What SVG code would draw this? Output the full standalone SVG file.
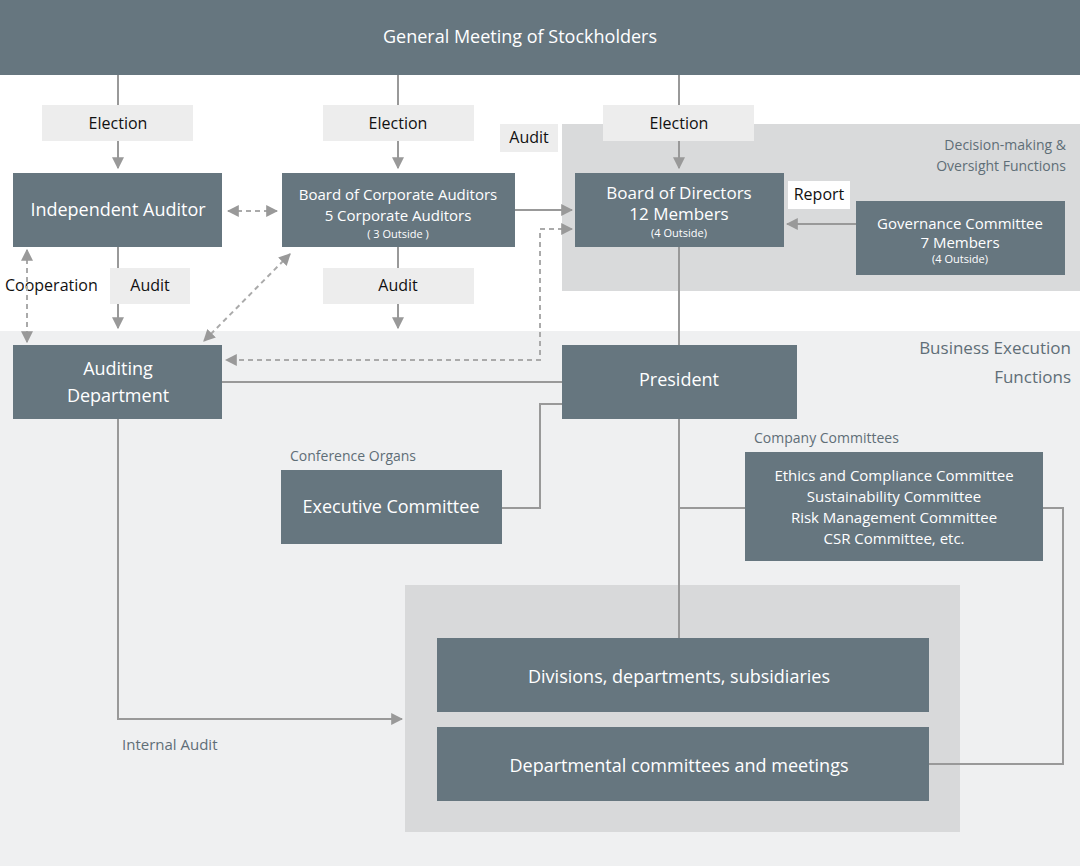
<svg xmlns="http://www.w3.org/2000/svg" width="1080" height="866" viewBox="0 0 1080 866">
<defs>
<style>
text{font-family:"Open Sans","Noto Sans",sans-serif;}
.n{fill:#66767f;}
.w{fill:#fff;text-anchor:middle;}
.lb{fill:#ededed;}
.k{fill:#111;text-anchor:middle;font-size:16px;}
.g{fill:#5f6e77;}
.ln{stroke:#999;stroke-width:2;fill:none;}
.d{stroke:#aaa;stroke-width:2;fill:none;stroke-dasharray:5,4;}
</style>
<marker id="a" viewBox="0 0 10 10" refX="9" refY="5" markerWidth="6" markerHeight="6" orient="auto-start-reverse"><path d="M0,0L10,5L0,10z" fill="#999"/></marker>
</defs>
<rect x="0" y="0" width="1080" height="866" fill="#fff"/>
<rect x="562" y="124" width="518" height="167" fill="#d9dadb"/>
<rect x="0" y="331" width="1080" height="535" fill="#eff0f1"/>
<rect x="405" y="585" width="555" height="247" fill="#d8d9da"/>
<g id="banner"><rect class="n" x="0" y="0" width="1080" height="75"/><text class="w" x="520" y="43" font-size="18">General Meeting of Stockholders</text></g>
<g id="labels">
<rect class="lb" x="42" y="105" width="151" height="36"/><text class="k" x="118" y="129">Election</text>
<rect class="lb" x="323" y="105" width="151" height="36"/><text class="k" x="398" y="129">Election</text>
<rect class="lb" x="603" y="105" width="151" height="36"/><text class="k" x="679" y="129">Election</text>
<rect class="lb" x="500" y="124" width="58" height="28"/><text class="k" x="529" y="143">Audit</text>
<rect fill="#fff" x="788" y="181" width="62" height="28"/><text class="k" x="819" y="200">Report</text>
<rect class="lb" x="110" y="268" width="80" height="36"/><text class="k" x="150" y="291">Audit</text>
<rect class="lb" x="323" y="268" width="151" height="36"/><text class="k" x="398" y="291">Audit</text>
<text x="5" y="291" font-size="16" fill="#111">Cooperation</text>
<text x="1066" y="150" font-size="14" fill="#5f6e77" text-anchor="end">Decision-making &amp;</text>
<text x="1066" y="171" font-size="14" fill="#5f6e77" text-anchor="end">Oversight Functions</text>
<text x="1071" y="354" font-size="17" fill="#5f6e77" text-anchor="end">Business Execution</text>
<text x="1071" y="383" font-size="17" fill="#5f6e77" text-anchor="end">Functions</text>
<text x="290" y="461" font-size="14" class="g">Conference Organs</text>
<text x="754" y="443" font-size="14" class="g">Company Committees</text>
<text x="122" y="750" font-size="15" class="g">Internal Audit</text>
</g>
<g id="connectors">
<line class="ln" x1="118" y1="75" x2="118" y2="105"/><line class="ln" x1="118" y1="141" x2="118" y2="168" marker-end="url(#a)"/>
<line class="ln" x1="398" y1="75" x2="398" y2="105"/><line class="ln" x1="398" y1="141" x2="398" y2="168" marker-end="url(#a)"/>
<line class="ln" x1="679" y1="75" x2="679" y2="105"/><line class="ln" x1="679" y1="141" x2="679" y2="168" marker-end="url(#a)"/>
<line class="ln" x1="118" y1="247" x2="118" y2="268"/><line class="ln" x1="118" y1="304" x2="118" y2="328" marker-end="url(#a)"/>
<line class="ln" x1="398" y1="247" x2="398" y2="268"/><line class="ln" x1="398" y1="304" x2="398" y2="328" marker-end="url(#a)"/>
<line class="ln" x1="515" y1="210" x2="572" y2="210" marker-end="url(#a)"/>
<line class="d" x1="228" y1="211" x2="277" y2="211" marker-start="url(#a)" marker-end="url(#a)"/>
<line class="d" x1="27" y1="250" x2="27" y2="342" marker-start="url(#a)" marker-end="url(#a)"/>
<line class="d" x1="290" y1="254" x2="204" y2="341" marker-start="url(#a)" marker-end="url(#a)"/>
<path class="d" d="M572,229H540V360H226" marker-start="url(#a)" marker-end="url(#a)"/>
<line class="ln" x1="856" y1="224" x2="787" y2="224" marker-end="url(#a)"/>
<line class="ln" x1="679" y1="247" x2="679" y2="345"/>
<line class="ln" x1="679" y1="419" x2="679" y2="638"/>
<line class="ln" x1="222" y1="382" x2="562" y2="382"/>
<path class="ln" d="M562,404H540V508H502"/>
<line class="ln" x1="679" y1="508" x2="745" y2="508"/>
<path class="ln" d="M1043,508H1063V764H929"/>
<path class="ln" d="M118,419V719H402" marker-end="url(#a)"/>
</g>
<g id="independent-auditor"><rect class="n" x="13" y="173" width="209" height="74"/><text class="w" x="118" y="216" font-size="18">Independent Auditor</text></g>
<g id="board-corporate-auditors"><rect class="n" x="282" y="173" width="233" height="74"/><text class="w" x="398" y="200" font-size="15">Board of Corporate Auditors</text><text class="w" x="398" y="221" font-size="15">5 Corporate Auditors</text><text class="w" x="398" y="238" font-size="11">( 3 Outside )</text></g>
<g id="board-directors"><rect class="n" x="575" y="173" width="209" height="74"/><text class="w" x="679" y="199" font-size="17">Board of Directors</text><text class="w" x="679" y="220" font-size="17">12 Members</text><text class="w" x="679" y="237" font-size="11">(4 Outside)</text></g>
<g id="governance"><rect class="n" x="856" y="201" width="209" height="74"/><text class="w" x="960" y="229" font-size="15">Governance Committee</text><text class="w" x="960" y="248" font-size="15">7 Members</text><text class="w" x="960" y="263" font-size="11">(4 Outside)</text></g>
<g id="auditing-department"><rect class="n" x="13" y="345" width="209" height="74"/><text class="w" x="118" y="375" font-size="18">Auditing</text><text class="w" x="118" y="402" font-size="18">Department</text></g>
<g id="president"><rect class="n" x="562" y="345" width="235" height="74"/><text class="w" x="679" y="386" font-size="18">President</text></g>
<g id="executive-committee"><rect class="n" x="281" y="470" width="221" height="74"/><text class="w" x="391" y="513" font-size="18">Executive Committee</text></g>
<g id="company-committees"><rect class="n" x="745" y="452" width="298" height="109"/><text class="w" x="894" y="481" font-size="15">Ethics and Compliance Committee</text><text class="w" x="894" y="502" font-size="15">Sustainability Committee</text><text class="w" x="894" y="523" font-size="15">Risk Management Committee</text><text class="w" x="894" y="544" font-size="15">CSR Committee, etc.</text></g>
<g id="divisions"><rect class="n" x="437" y="638" width="492" height="74"/><text class="w" x="679" y="683" font-size="18">Divisions, departments, subsidiaries</text></g>
<g id="departmental"><rect class="n" x="437" y="727" width="492" height="74"/><text class="w" x="679" y="772" font-size="18">Departmental committees and meetings</text></g>
</svg>
